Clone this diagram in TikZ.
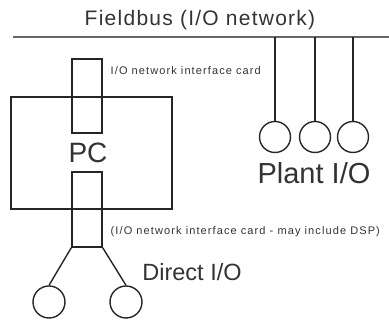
\documentclass[tikz,border=0pt]{standalone}
\usepackage{fontspec}
\setmainfont{Liberation Sans}
\newfontfamily\busfont[LetterSpace=6]{Liberation Sans}
\newfontfamily\cardfont[LetterSpace=10]{Liberation Sans}

\begin{document}
\begin{tikzpicture}[x=1pt,y=1pt,line width=1.4pt]
  \colorlet{ink}{black!85}
  \tikzset{
    box/.style={draw=ink,inner sep=0pt},
    io/.style={draw=ink,circle,inner sep=0pt,minimum size=31pt},
    txt/.style={text=black!80,inner sep=0pt}
  }
  \useasboundingbox (0,0) rectangle (389,323);
  % fieldbus line and its title
  \coordinate (busL) at (13,286);
  \coordinate (busR) at (389,286);
  \draw[black!60,line width=2pt] (busL) -- (busR);
  \node[txt,font=\busfont\fontsize{21}{21}\selectfont] (bus) at (200,303) {Fieldbus (I/O network)};
  % the PC with its two interface cards
  \node[box,minimum width=161pt,minimum height=112pt] (pc) at (91.5,170) {};
  \node[box,minimum width=30pt,minimum height=74pt] (topcard) at (87,227) {};
  \node[box,minimum width=30pt,minimum height=75pt] (botcard) at (87,113.5) {};
  \node[txt,font=\fontsize{28}{28}\selectfont] (pclabel) at (88,170) {PC};
  \node[txt,anchor=west,font=\cardfont\fontsize{11}{11}\selectfont] (toplabel) at (110,252) {I/O network interface card};
  \node[txt,anchor=west,font=\cardfont\fontsize{11}{11}\selectfont] (botlabel) at (110,91) {(I/O network interface card - may include DSP)};
  % plant I/O hanging off the bus
  \node[io] (p1) at (275,186) {};
  \node[io] (p2) at (315,186) {};
  \node[io] (p3) at (353,186) {};
  \foreach \p in {p1,p2,p3}
    \draw[ink] (\p) -- (\p |- busL);
  \node[txt,font=\fontsize{29}{29}\selectfont] (plant) at (314,150) {Plant I/O};
  % direct I/O off the lower card
  \node[io,minimum size=32pt] (d1) at (49,21) {};
  \node[io,minimum size=32pt] (d2) at (126,21) {};
  \draw[ink] (botcard.south west) -- (d1.north);
  \draw[ink] (botcard.south east) -- (d2.north);
  \node[txt,font=\fontsize{23.5}{24}\selectfont] (direct) at (192,51) {Direct I/O};
\end{tikzpicture}
\end{document}
